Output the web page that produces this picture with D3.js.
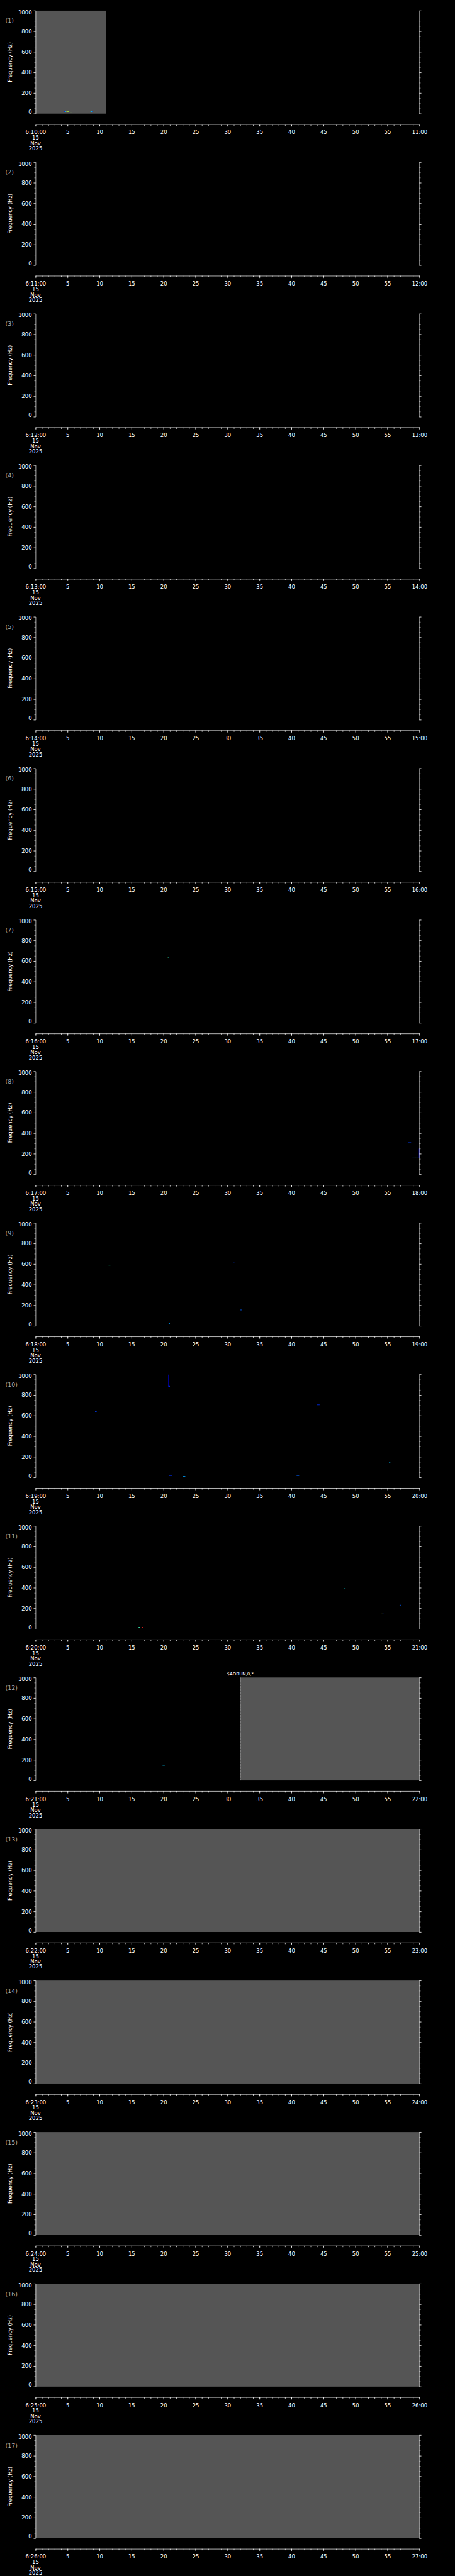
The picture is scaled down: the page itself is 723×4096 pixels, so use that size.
<!DOCTYPE html>
<html>
<head>
<meta charset="utf-8">
<script src="https://cdn.jsdelivr.net/npm/d3@7"></script>
<style>
  html, body { margin: 0; padding: 0; background: #000; }
  svg { display: block; }
</style>
</head>
<body>
<svg id="chart"></svg>
<script>
// one panel per minute, 15 Nov 2025
const startLabels = ["6:10:00", "6:11:00", "6:12:00", "6:13:00", "6:14:00", "6:15:00", "6:16:00", "6:17:00", "6:18:00",
  "6:19:00", "6:20:00", "6:21:00", "6:22:00", "6:23:00", "6:24:00", "6:25:00", "6:26:00"];
const endLabels = ["11:00", "12:00", "13:00", "14:00", "15:00", "16:00", "17:00", "18:00", "19:00",
  "20:00", "21:00", "22:00", "23:00", "24:00", "25:00", "26:00", "27:00"];
const dateLines = ["15", "Nov", "2025"];
const secTicks = [0, 5, 10, 15, 20, 25, 30, 35, 40, 45, 50, 55, 60];
const freqTicks = [0, 200, 400, 600, 800, 1000];

// grey blocks : [panel, from (s), to (s)]
const greyBlocks = [[1, 0, 11], [12, 32, 60], [13, 0, 60], [14, 0, 60], [15, 0, 60], [16, 0, 60], [17, 0, 60]];

// event markers : [panel, time (s), label]
const events = [[12, 32, "$ADRUN,0,*"]];

// spectrogram pixels : [panel, t0, t1, f0, f1, colour]
const pixels = [
  [1, 4.44, 4.56, 18, 23, "#0000ff"],
  [1, 4.56, 4.81, 18, 23, "#00d8ff"],
  [1, 4.81, 4.95, 18, 23, "#ff9000"],
  [1, 4.95, 5.21, 18, 23, "#b0ff40"],
  [1, 5.35, 5.69, 6, 11, "#a0ff60"],
  [1, 8.59, 8.85, 18, 23, "#00d8ff"],
  [1, 8.85, 8.98, 18, 23, "#0000ff"],
  [7, 20.55, 20.75, 636, 641, "#a0ff40"],
  [7, 20.75, 20.9, 633, 638, "#00e0ff"],
  [8, 58.2, 58.7, 305, 310, "#0040ff"],
  [8, 58.9, 59.3, 156, 161, "#0080ff"],
  [8, 59.3, 59.5, 156, 161, "#c0ff40"],
  [8, 59.5, 60, 156, 161, "#00c0ff"],
  [8, 59.93, 60, 161, 249, "#0000ff"],
  [9, 11.4, 11.7, 587, 592, "#00ffa0"],
  [9, 30.9, 31.1, 617, 622, "#0040ff"],
  [9, 32.0, 32.3, 152, 157, "#0060ff"],
  [9, 20.8, 21.0, 20, 25, "#00a0ff"],
  [10, 20.75, 20.82, 885, 998, "#0000ff"],
  [10, 20.75, 21.0, 881, 888, "#0020ff"],
  [10, 44.0, 44.4, 702, 707, "#0030ff"],
  [10, 9.3, 9.55, 637, 642, "#0040ff"],
  [10, 55.25, 55.45, 144, 152, "#00c0ff"],
  [10, 20.8, 21.3, 16, 21, "#0030ff"],
  [10, 23.0, 23.4, 8, 13, "#00a0ff"],
  [10, 40.8, 41.2, 16, 21, "#0060ff"],
  [11, 48.2, 48.45, 389, 394, "#00e0e0"],
  [11, 56.9, 57.1, 229, 234, "#0060ff"],
  [11, 54.1, 54.2, 143, 148, "#ffff00"],
  [11, 54.2, 54.45, 143, 148, "#0040ff"],
  [11, 16.1, 16.35, 13, 18, "#40ffc0"],
  [11, 16.6, 16.85, 13, 18, "#ff2020"],
  [12, 19.85, 20.2, 145, 150, "#00d0ff"]
];

// drawn in the 1024 x 5802 frame, viewBox shrinks it to the window
const W = 1024, H = 5802;
const pitch = H / startLabels.length;
const font = "DejaVu Sans, sans-serif";

const x = d3.scaleLinear().domain([0, 60]).range([80, 944]);
const y = d3.scaleLinear().domain([0, 1000]).range([256, 24]);

const svg = d3.select("#chart")
  .attr("width", 723)
  .attr("height", 4096)
  .attr("viewBox", [0, 0, W, H])
  .style("background", "#000");

svg.append("rect").attr("width", W).attr("height", H).attr("fill", "#000");

startLabels.forEach((start, i) => {
  const p = i + 1;
  const g = svg.append("g").attr("transform", `translate(0,${i * pitch})`);

  g.selectAll("rect.grey")
    .data(greyBlocks.filter(d => d[0] === p))
    .join("rect")
    .attr("class", "grey")
    .attr("x", d => x(d[1]))
    .attr("width", d => x(d[2]) - x(d[1]))
    .attr("y", y(1000))
    .attr("height", y(0) - y(1000))
    .attr("fill", "#555555");

  g.selectAll("rect.px")
    .data(pixels.filter(d => d[0] === p))
    .join("rect")
    .attr("class", "px")
    .attr("x", d => x(d[1]))
    .attr("width", d => Math.max(1, x(d[2]) - x(d[1])))
    .attr("y", d => y(d[4]))
    .attr("height", d => Math.max(1, y(d[3]) - y(d[4])))
    .attr("fill", d => d[5]);

  events.filter(d => d[0] === p).forEach(ev => {
    g.append("line")
      .attr("x1", x(ev[1])).attr("x2", x(ev[1]))
      .attr("y1", y(1000)).attr("y2", y(0))
      .attr("stroke", "#fff")
      .attr("stroke-width", 1)
      .attr("stroke-dasharray", "5,1.5");
    g.append("text")
      .attr("x", x(ev[1]))
      .attr("y", 20)
      .attr("text-anchor", "middle")
      .attr("fill", "#fff")
      .attr("font-family", font)
      .attr("font-size", 10)
      .text(ev[2]);
  });

  // left frequency axis
  g.append("g")
    .attr("transform", `translate(${x(0)},0)`)
    .attr("color", "#fff")
    .call(d3.axisLeft(y).tickValues(d3.range(0, 1001, 50)).tickSize(2.7).tickFormat("").tickSizeOuter(0));

  g.append("g")
    .attr("transform", `translate(${x(0)},0)`)
    .attr("color", "#fff")
    .call(d3.axisLeft(y).tickValues(freqTicks).tickSize(4.5).tickSizeOuter(0).tickFormat(d3.format("d")))
    .call(a => a.select(".domain").remove())
    .call(a => a.selectAll("text")
      .attr("x", -8.5)
      .attr("font-family", font)
      .attr("font-size", 12)
      .attr("dy", d => d === 1000 ? "0.62em" : d === 0 ? "0.02em" : "0.34em"));

  // right frequency axis
  g.append("g")
    .attr("transform", `translate(${x(60)},0)`)
    .attr("color", "#fff")
    .call(d3.axisRight(y).tickValues(d3.range(0, 1001, 50)).tickSize(2.7).tickFormat("").tickSizeOuter(0));

  g.append("g")
    .attr("transform", `translate(${x(60)},0)`)
    .attr("color", "#fff")
    .call(d3.axisRight(y).tickValues(freqTicks).tickSize(4.5).tickFormat("").tickSizeOuter(0))
    .call(a => a.select(".domain").remove());

  g.append("text")
    .attr("transform", `translate(26.7,${(y(0) + y(1000)) / 2}) rotate(-90)`)
    .attr("text-anchor", "middle")
    .attr("fill", "#fff")
    .attr("font-family", font)
    .attr("font-size", 12)
    .text("Frequency (Hz)");

  g.append("text")
    .attr("x", 12)
    .attr("y", 51.7)
    .attr("fill", "#aaaaaa")
    .attr("font-family", font)
    .attr("font-size", 13.5)
    .text(`(${p})`);

  // time axis
  const ax = g.append("g")
    .attr("transform", "translate(0,280)")
    .attr("color", "#fff");

  ax.append("g")
    .call(d3.axisBottom(x).tickValues(d3.range(0, 61, 1)).tickSize(3.3).tickFormat("").tickSizeOuter(0));

  ax.append("g")
    .call(d3.axisBottom(x).tickValues(secTicks).tickSize(5).tickSizeOuter(0)
      .tickFormat(d => d === 0 ? start : d === 60 ? endLabels[i] : d))
    .call(a => a.select(".domain").remove())
    .call(a => a.selectAll("text")
      .attr("y", 18)
      .attr("dy", "0.36em")
      .attr("font-family", font)
      .attr("font-size", 12));

  ax.append("text")
    .attr("text-anchor", "middle")
    .attr("fill", "#fff")
    .attr("font-family", font)
    .attr("font-size", 12)
    .selectAll("tspan")
    .data(dateLines)
    .join("tspan")
    .attr("x", x(0))
    .attr("y", (d, k) => 30.5 + k * 12)
    .attr("dy", "0.36em")
    .text(d => d);
});
</script>
</body>
</html>
